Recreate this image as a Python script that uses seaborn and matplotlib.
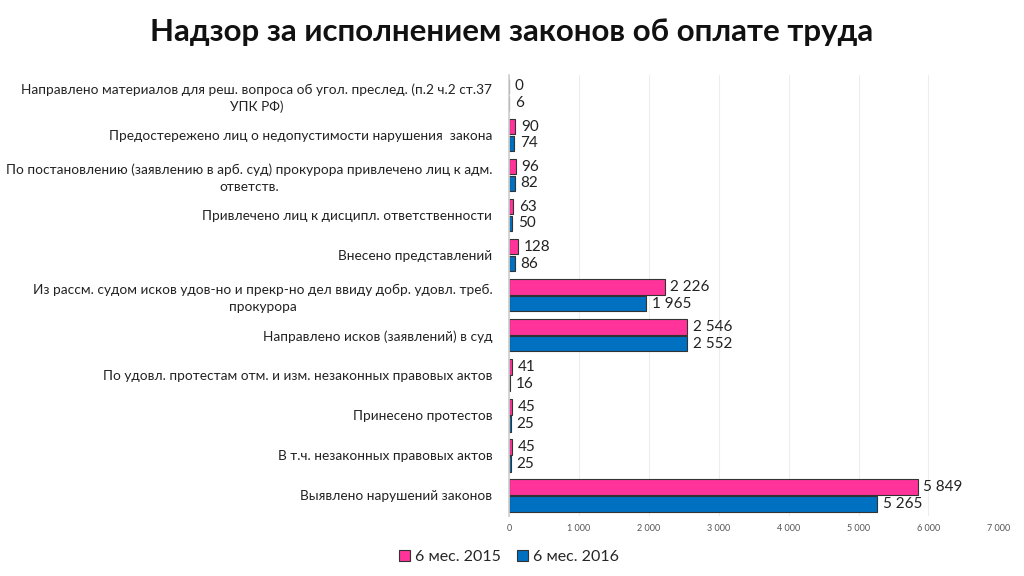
import matplotlib
matplotlib.use("Agg")
import matplotlib.pyplot as plt
import seaborn as sns
import pandas as pd
from matplotlib.ticker import FuncFormatter

categories = [
    "Направлено материалов для реш. вопроса об угол. преслед. (п.2 ч.2 ст.37\nУПК РФ)",
    "Предостережено лиц о недопустимости нарушения  закона",
    "По постановлению (заявлению в арб. суд) прокурора привлечено лиц к адм.\nответств.",
    "Привлечено лиц к дисципл. ответственности",
    "Внесено представлений",
    "Из рассм. судом исков удов-но и прекр-но дел ввиду добр. удовл. треб.\nпрокурора",
    "Направлено исков (заявлений) в суд",
    "По удовл. протестам отм. и изм. незаконных правовых актов",
    "Принесено протестов",
    "В т.ч. незаконных правовых актов",
    "Выявлено нарушений законов",
]
series_names = ["6 мес. 2015", "6 мес. 2016"]
values_2015 = [0, 90, 96, 63, 128, 2226, 2546, 41, 45, 45, 5849]
values_2016 = [6, 74, 82, 50, 86, 1965, 2552, 16, 25, 25, 5265]
x_ticks = [0, 1000, 2000, 3000, 4000, 5000, 6000, 7000]
title = "Надзор за исполнением законов об оплате труда"
colors = ["#FF3399", "#0070C0"]

df = pd.DataFrame({
    "category": categories * 2,
    "value": values_2015 + values_2016,
    "series": [series_names[0]] * len(categories) + [series_names[1]] * len(categories),
})

sns.set_theme(style="white")
plt.rcParams["font.family"] = ["Lato", "DejaVu Sans"]

fig = plt.figure(figsize=(10.24, 5.76), dpi=100)
ax = fig.add_axes([0.497, 0.105, 0.478, 0.765])

sns.barplot(data=df, y="category", x="value", hue="series", orient="h",
            palette=colors, order=categories, hue_order=series_names, saturation=1,
            width=0.84, gap=0.08, edgecolor="#333333", linewidth=0.8, ax=ax)

fmt = lambda v: f"{int(v):,}".replace(",", " ")
for cont in ax.containers:
    labels = [fmt(b.get_width()) for b in cont]
    ax.bar_label(cont, labels=labels, padding=4, fontsize=11, color="#222222")

ax.set_xlim(0, 7000)
ax.set_xticks(x_ticks)
ax.xaxis.set_major_formatter(FuncFormatter(lambda v, p: fmt(v)))
ax.tick_params(axis="x", labelsize=6.5, colors="#555555", length=0, pad=6)
ax.tick_params(axis="y", labelsize=9.8, colors="#222222", length=0, pad=12)
for lab in ax.get_yticklabels():
    lab.set_multialignment("center")
    lab.set_linespacing(1.45)
ax.grid(axis="x", color="#EDEDED", linewidth=0.8)
ax.set_axisbelow(True)
for s in ["top", "right", "bottom"]:
    ax.spines[s].set_visible(False)
ax.spines["left"].set_color("#D0D0D0")
ax.set_xlabel("")
ax.set_ylabel("")

leg = ax.legend(loc="upper center", bbox_to_anchor=(0.0, -0.045), ncol=2, frameon=False,
                fontsize=11.5, handlelength=0.7, handleheight=0.7, handletextpad=0.3,
                columnspacing=1.0)
for h in leg.legend_handles:
    h.set_edgecolor("#333333")

fig.text(0.5, 0.945, title, ha="center", va="center", fontsize=22.5, fontweight="bold",
         color="#111111")

fig.savefig("out.png", dpi=100)
